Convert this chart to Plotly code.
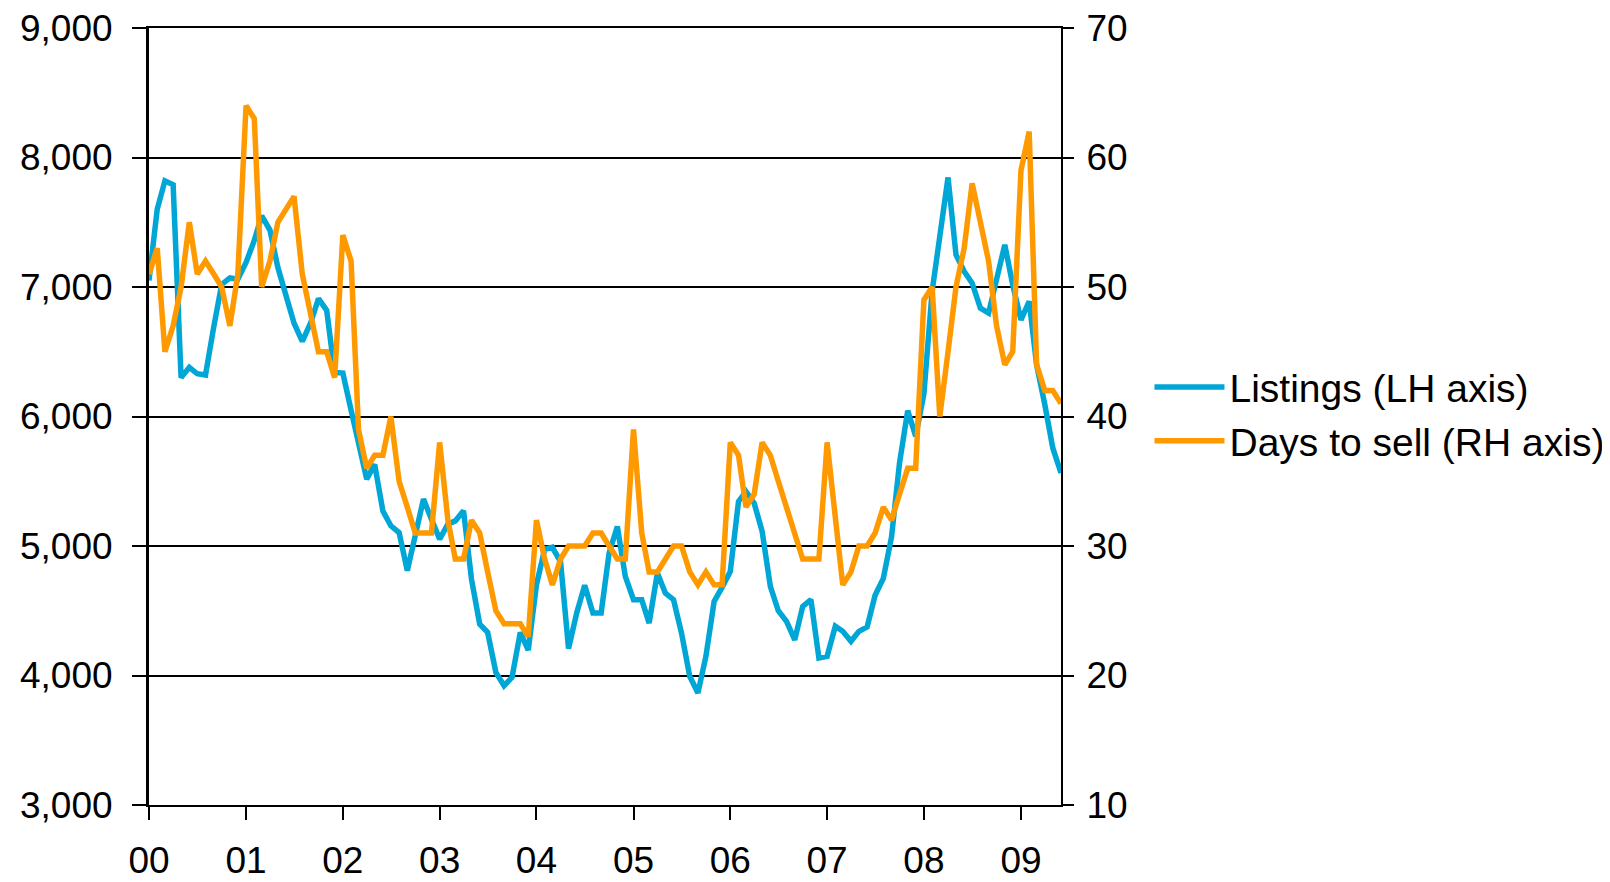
import pandas as pd
import plotly.graph_objects as go

months = pd.date_range("2000-01-01", periods=114, freq="MS")

listings = [
    7050, 7600, 7820, 7790, 6300, 6380, 6330, 6320, 6690, 7020, 7070, 7060,
    7190, 7360, 7550, 7440, 7150, 6920, 6720, 6580, 6720, 6910, 6820, 6340,
    6335, 6050, 5780, 5516, 5630, 5270, 5156, 5104, 4810, 5066, 5362, 5207,
    5053, 5169, 5194, 5272, 4744, 4397, 4333, 4024, 3921, 3986, 4333, 4195,
    4700, 4975, 4990, 4877, 4208, 4485, 4697, 4483, 4483, 4946, 5151, 4765,
    4585, 4585, 4405, 4791, 4637, 4585, 4328, 3994, 3865, 4148, 4573, 4680,
    4804, 5344, 5421, 5331, 5113, 4688, 4500, 4418, 4276, 4533, 4585, 4135,
    4148, 4380, 4341, 4264, 4341, 4375, 4620, 4750, 5070, 5640, 6045, 5847,
    6175, 6966, 7429, 7846, 7249, 7120, 7030, 6837, 6799, 7050, 7326, 7017,
    6747, 6889, 6400, 6092, 5757, 5564,
]

days_to_sell = [
    51, 53, 45, 47, 50, 55, 51, 52, 51, 50, 47, 51,
    64, 63, 50, 52, 55, 56, 57, 51, 48, 45, 45, 43,
    54, 52, 39, 36, 37, 37, 40, 35, 33, 31, 31, 31,
    38, 32, 29, 29, 32, 31, 28, 25, 24, 24, 24, 23,
    32, 29, 27, 29, 30, 30, 30, 31, 31, 30, 29, 29,
    39, 31, 28, 28, 29, 30, 30, 28, 27, 28, 27, 27,
    38, 37, 33, 34, 38, 37, 35, 33, 31, 29, 29, 29,
    38, 32, 27, 28, 30, 30, 31, 33, 32, 34, 36, 36,
    49, 50, 40, 45, 50, 53, 58, 55, 52, 47, 44, 45,
    59, 62, 44, 42, 42, 41,
]

year_ticks = pd.date_range("2000-01-01", "2009-01-01", freq="YS")
year_labels = ["00", "01", "02", "03", "04", "05", "06", "07", "08", "09"]

BLUE = "#00A6D6"
ORANGE = "#FF9900"
FONT = "Liberation Sans, Arial, sans-serif"

fig = go.Figure()
fig.add_trace(go.Scatter(
    x=months, y=listings, name="Listings (LH axis)", mode="lines",
    line=dict(color=BLUE, width=5.5), yaxis="y",
))
fig.add_trace(go.Scatter(
    x=months, y=days_to_sell, name="Days to sell (RH axis)", mode="lines",
    line=dict(color=ORANGE, width=5.5), yaxis="y2",
))

fig.update_layout(
    width=1602, height=874,
    margin=dict(l=141, r=549, t=20, b=77, autoexpand=False),
    paper_bgcolor="white", plot_bgcolor="white",
    font=dict(family=FONT, color="black", size=37),
    showlegend=True,
    legend=dict(
        x=1.097, xanchor="left", y=0.503, yanchor="middle",
        font=dict(size=39, family=FONT, color="black"),
        bgcolor="rgba(0,0,0,0)", borderwidth=0,
        tracegroupgap=0, itemwidth=70,
    ),
    xaxis=dict(
        range=[months[0], months[-1]],
        tickvals=list(year_ticks), ticktext=year_labels,
        ticks="outside", ticklen=13, tickwidth=2, tickcolor="black",
        showline=True, linecolor="black", linewidth=2, mirror=True,
        showgrid=False, zeroline=False, automargin=False,
        tickfont=dict(size=37, family=FONT, color="black"),
        ticklabelstandoff=9, ticklabeloverflow="allow",
    ),
    yaxis=dict(
        range=[3000, 9000], dtick=1000, tickformat=",d",
        ticks="outside", ticklen=14, tickwidth=1.5, tickcolor="black",
        showline=True, linecolor="black", linewidth=3,
        showgrid=True, gridcolor="black", gridwidth=1.5,
        zeroline=False, automargin=False,
        tickfont=dict(size=37, family=FONT, color="black"),
        ticklabelstandoff=12, ticklabeloverflow="allow",
    ),
    yaxis2=dict(
        range=[10, 70], dtick=10, overlaying="y", side="right",
        ticks="outside", ticklen=11, tickwidth=1.5, tickcolor="black",
        showline=True, linecolor="black", linewidth=2,
        showgrid=False, zeroline=False, automargin=False,
        tickfont=dict(size=37, family=FONT, color="black"),
        ticklabelstandoff=5, ticklabeloverflow="allow",
    ),
)

fig.write_html("out.html")
